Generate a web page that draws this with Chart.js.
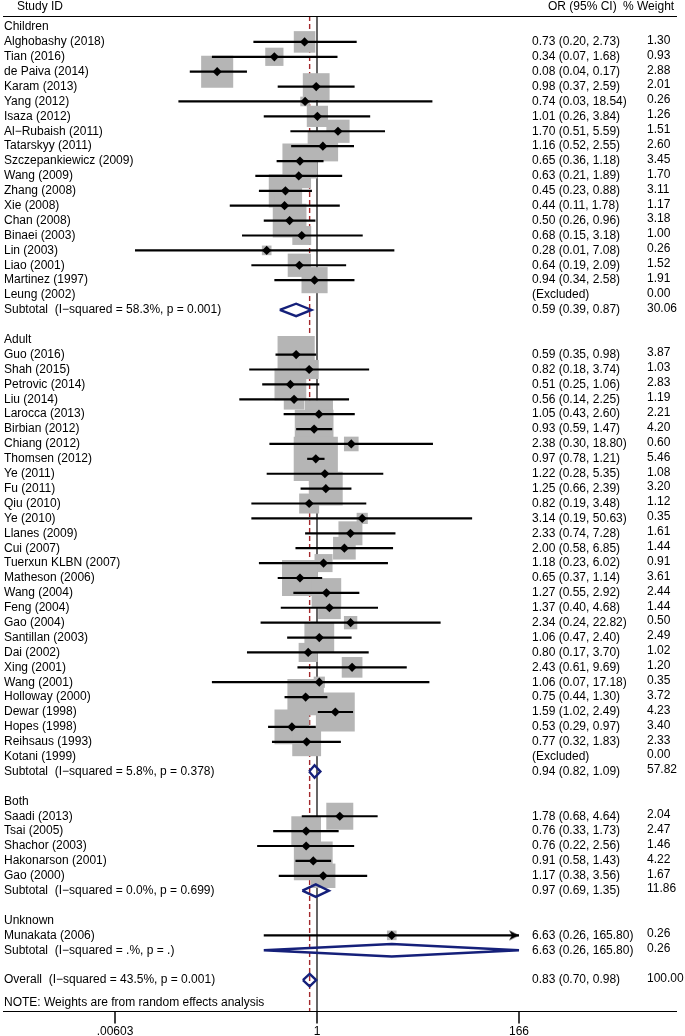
<!DOCTYPE html>
<html>
<head>
<meta charset="utf-8">
<script src="https://cdn.jsdelivr.net/npm/chart.js@4.4.0/dist/chart.umd.min.js"></script>
<style>
html, body { margin: 0; padding: 0; background: #fff; }
canvas { display: block; }
</style>
</head>
<body>
<canvas id="forest" width="685" height="1036"></canvas>
<script>
// one entry per row, top to bottom
var rowLabels = [
    'Children',
    'Alghobashy (2018)', 'Tian (2016)', 'de Paiva (2014)', 'Karam (2013)', 'Yang (2012)',
    'Isaza (2012)', 'Al\u2212Rubaish (2011)', 'Tatarskyy (2011)', 'Szczepankiewicz (2009)',
    'Wang (2009)', 'Zhang (2008)', 'Xie (2008)', 'Chan (2008)', 'Binaei (2003)', 'Lin (2003)',
    'Liao (2001)', 'Martinez (1997)', 'Leung (2002)',
    'Subtotal  (I\u2212squared = 58.3%, p = 0.001)',
    '',
    'Adult',
    'Guo (2016)', 'Shah (2015)', 'Petrovic (2014)', 'Liu (2014)', 'Larocca (2013)',
    'Birbian (2012)', 'Chiang (2012)', 'Thomsen (2012)', 'Ye (2011)', 'Fu (2011)', 'Qiu (2010)',
    'Ye (2010)', 'Llanes (2009)', 'Cui (2007)', 'Tuerxun KLBN (2007)', 'Matheson (2006)',
    'Wang (2004)', 'Feng (2004)', 'Gao (2004)', 'Santillan (2003)', 'Dai (2002)', 'Xing (2001)',
    'Wang (2001)', 'Holloway (2000)', 'Dewar (1998)', 'Hopes (1998)', 'Reihsaus (1993)',
    'Kotani (1999)',
    'Subtotal  (I\u2212squared = 5.8%, p = 0.378)',
    '',
    'Both',
    'Saadi (2013)', 'Tsai (2005)', 'Shachor (2003)', 'Hakonarson (2001)', 'Gao (2000)',
    'Subtotal  (I\u2212squared = 0.0%, p = 0.699)',
    '',
    'Unknown',
    'Munakata (2006)',
    'Subtotal  (I\u2212squared = .%, p = .)',
    '',
    'Overall  (I\u2212squared = 43.5%, p = 0.001)'
];

// g = group heading, s = study, x = excluded study, t = subtotal / overall, b = blank
var rowKind = [
    'g', 's','s','s','s','s','s','s','s','s','s','s','s','s','s','s','s','s','x', 't', 'b',
    'g', 's','s','s','s','s','s','s','s','s','s','s','s','s','s','s','s','s','s','s','s','s','s','s','s','s','s','s','x', 't', 'b',
    'g', 's','s','s','s','s', 't', 'b',
    'g', 's', 't', 'b',
    't'
];

var orEst = [
    null, 0.73, 0.34, 0.08, 0.98, 0.74, 1.01, 1.70, 1.16, 0.65, 0.63, 0.45, 0.44, 0.50, 0.68, 0.28, 0.64, 0.94, null, 0.59, null,
    null, 0.59, 0.82, 0.51, 0.56, 1.05, 0.93, 2.38, 0.97, 1.22, 1.25, 0.82, 3.14, 2.33, 2.00, 1.18, 0.65, 1.27, 1.37, 2.34, 1.06, 0.80, 2.43, 1.06, 0.75, 1.59, 0.53, 0.77, null, 0.94, null,
    null, 1.78, 0.76, 0.76, 0.91, 1.17, 0.97, null,
    null, 6.63, 6.63, null,
    0.83
];
var orLow = [
    null, 0.20, 0.07, 0.04, 0.37, 0.03, 0.26, 0.51, 0.52, 0.36, 0.21, 0.23, 0.11, 0.26, 0.15, 0.01, 0.19, 0.34, null, 0.39, null,
    null, 0.35, 0.18, 0.25, 0.14, 0.43, 0.59, 0.30, 0.78, 0.28, 0.66, 0.19, 0.19, 0.74, 0.58, 0.23, 0.37, 0.55, 0.40, 0.24, 0.47, 0.17, 0.61, 0.07, 0.44, 1.02, 0.29, 0.32, null, 0.82, null,
    null, 0.68, 0.33, 0.22, 0.58, 0.38, 0.69, null,
    null, 0.26, 0.26, null,
    0.70
];
var orHigh = [
    null, 2.73, 1.68, 0.17, 2.59, 18.54, 3.84, 5.59, 2.55, 1.18, 1.89, 0.88, 1.78, 0.96, 3.18, 7.08, 2.09, 2.58, null, 0.87, null,
    null, 0.98, 3.74, 1.06, 2.25, 2.60, 1.47, 18.80, 1.21, 5.35, 2.39, 3.48, 50.63, 7.28, 6.85, 6.02, 1.14, 2.92, 4.68, 22.82, 2.40, 3.70, 9.69, 17.18, 1.30, 2.49, 0.97, 1.83, null, 1.09, null,
    null, 4.64, 1.73, 2.56, 1.43, 3.56, 1.35, null,
    null, 165.80, 165.80, null,
    0.98
];
var weights = [
    null, 1.30, 0.93, 2.88, 2.01, 0.26, 1.26, 1.51, 2.60, 3.45, 1.70, 3.11, 1.17, 3.18, 1.00, 0.26, 1.52, 1.91, 0.00, 30.06, null,
    null, 3.87, 1.03, 2.83, 1.19, 2.21, 4.20, 0.60, 5.46, 1.08, 3.20, 1.12, 0.35, 1.61, 1.44, 0.91, 3.61, 2.44, 1.44, 0.50, 2.49, 1.02, 1.20, 0.35, 3.72, 4.23, 3.40, 2.33, 0.00, 57.82, null,
    null, 2.04, 2.47, 1.46, 4.22, 1.67, 11.86, null,
    null, 0.26, 0.26, null,
    100.00
];

var xTicks = [1 / 165.8, 1, 165.8];
var xTickLabels = ['.00603', '1', '166'];
var noteText = 'NOTE: Weights are from random effects analysis';

var FONT = '12px "Liberation Sans", Arial, sans-serif';
var xMin = xTicks[0], xMax = xTicks[2];
var yTop = -0.74, yBottom = 66.08, noteRow = 65.55;

// arrow head image (tip at the image centre)
var arrowImg = document.createElement('canvas');
arrowImg.width = 24; arrowImg.height = 12;
(function () {
    var a = arrowImg.getContext('2d');
    a.fillStyle = '#000';
    a.beginPath();
    a.moveTo(2, 1); a.lineTo(12, 6); a.lineTo(2, 11); a.lineTo(5, 6);
    a.closePath();
    a.fill();
})();

var datasets = [];
var overallIdx = rowKind.length - 1;

// reference lines
datasets.push({
    type: 'line', data: [{x: 1, y: yTop}, {x: 1, y: yBottom}],
    borderColor: '#000', borderWidth: 1.2, pointRadius: 0, order: 20, clip: false
});
datasets.push({
    type: 'line', data: [{x: orEst[overallIdx], y: yTop}, {x: orEst[overallIdx], y: yBottom}],
    borderColor: '#a3282b', borderWidth: 1.4, borderDash: [5, 3], pointRadius: 0, order: 19, clip: false
});

var boxes = [], points = [], arrows = [];
for (var i = 0; i < rowKind.length; i++) {
    if (rowKind[i] === 's') {
        boxes.push({x: orEst[i], y: i, w: weights[i]});
        points.push({x: orEst[i], y: i});
        datasets.push({
            type: 'line', data: [{x: orLow[i], y: i}, {x: Math.min(orHigh[i], xMax), y: i}],
            borderColor: '#000', borderWidth: 2.2, pointRadius: 0, order: 10, clip: false
        });
        if (orHigh[i] >= xMax) arrows.push({x: xMax, y: i});
    } else if (rowKind[i] === 't') {
        datasets.push({
            type: 'line',
            data: [{x: orLow[i], y: i}, {x: orEst[i], y: i - 0.42}, {x: orHigh[i], y: i},
                   {x: orEst[i], y: i + 0.42}, {x: orLow[i], y: i}],
            borderColor: '#15207a', borderWidth: 2.4, borderJoinStyle: 'miter',
            pointRadius: 0, order: 5, clip: false
        });
    }
}

datasets.push({
    type: 'scatter', data: boxes, pointStyle: 'rect',
    pointRadius: function (ctx) { return ctx.raw ? 13.36 * Math.sqrt(ctx.raw.w) : 0; },
    backgroundColor: '#b5b5b5', pointBorderWidth: 0, order: 15, clip: false
});
datasets.push({
    type: 'scatter', data: points, pointStyle: 'rectRot', pointRadius: 4.6,
    backgroundColor: '#000', pointBorderWidth: 0, order: 4, clip: false
});
datasets.push({
    type: 'scatter', data: arrows, pointStyle: arrowImg,
    order: 3, clip: false
});

var textPlugin = {
    id: 'forestText',
    afterDraw: function (chart) {
        var c = chart.ctx, ys = chart.scales.y, xs = chart.scales.x;
        c.save();
        c.fillStyle = '#000';
        c.font = FONT;
        c.textBaseline = 'middle';
        c.textAlign = 'left';
        c.fillText('Study ID', 17, 7);
        c.fillText('OR (95% CI)', 548, 7);
        c.fillText('% Weight', 623, 7);

        for (var i = 0; i < rowLabels.length; i++) {
            var y = ys.getPixelForValue(i);
            if (rowLabels[i]) c.fillText(rowLabels[i], 4, y);
            if (rowKind[i] === 's' || rowKind[i] === 't') {
                c.fillText(orEst[i].toFixed(2) + ' (' + orLow[i].toFixed(2) + ', ' + orHigh[i].toFixed(2) + ')', 532, y);
            } else if (rowKind[i] === 'x') {
                c.fillText('(Excluded)', 532, y);
            }
            if (weights[i] !== null) c.fillText(weights[i].toFixed(2), 647, y - 1.5);
        }
        c.fillText(noteText, 4, ys.getPixelForValue(noteRow));

        // header rule and axis
        var yAxis = Math.round(ys.getPixelForValue(yBottom)) + 0.5;
        var yHead = Math.round(ys.getPixelForValue(yTop)) + 0.5;
        c.strokeStyle = '#000';
        c.lineWidth = 1.2;
        c.beginPath();
        c.moveTo(3, yHead); c.lineTo(677, yHead);
        c.moveTo(3, yAxis); c.lineTo(677, yAxis);
        c.stroke();
        c.lineWidth = 1.5;
        c.textAlign = 'center';
        for (var k = 0; k < xTicks.length; k++) {
            var px = xs.getPixelForValue(xTicks[k]);
            c.beginPath();
            c.moveTo(px, yAxis); c.lineTo(px, yAxis + 12);
            c.stroke();
            c.fillText(xTickLabels[k], px, yAxis + 20);
        }
        c.restore();
    }
};

new Chart(document.getElementById('forest').getContext('2d'), {
    type: 'scatter',
    data: { datasets: datasets },
    options: {
        responsive: false,
        animation: false,
        events: [],
        layout: { autoPadding: false, padding: { left: 115, right: 166, top: 16, bottom: 25 } },
        plugins: { legend: { display: false }, tooltip: { enabled: false } },
        scales: {
            x: { type: 'logarithmic', min: xMin, max: xMax, display: false },
            y: { type: 'linear', min: yTop, max: yBottom, reverse: true, display: false }
        }
    },
    plugins: [textPlugin]
});
</script>
</body>
</html>
